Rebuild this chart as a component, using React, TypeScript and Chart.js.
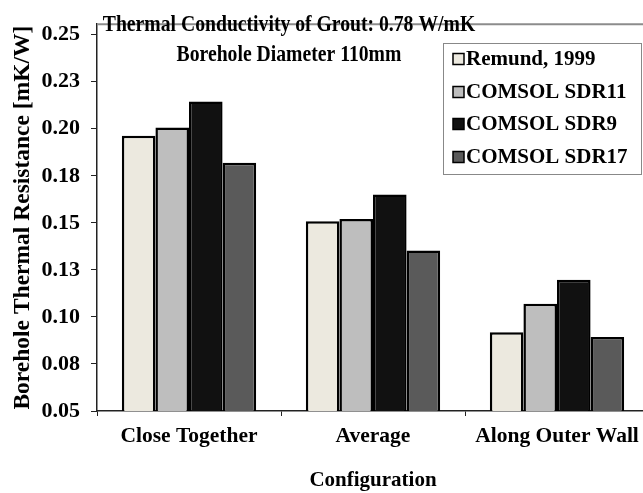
import React, { useEffect, useRef } from "react";
import { Chart, registerables } from "chart.js";

Chart.register(...registerables);

const categories = ["Close Together", "Average", "Along Outer Wall"];
const seriesNames = ["Remund, 1999", "COMSOL SDR11", "COMSOL SDR9", "COMSOL SDR17"];
const remund = [0.1963, 0.1509, 0.0918];
const sdr11 = [0.2007, 0.152, 0.107];
const sdr9 = [0.2145, 0.1651, 0.1197];
const sdr17 = [0.182, 0.1353, 0.0894];
const seriesColors = ["#ECE9DF", "#BEBEBE", "#111111", "#5A5A5A"];
const tickValues = [0.05, 0.075, 0.1, 0.125, 0.15, 0.175, 0.2, 0.225, 0.25];
const tickLabels = ["0.05", "0.08", "0.10", "0.13", "0.15", "0.18", "0.20", "0.23", "0.25"];
const titleLines = ["Thermal Conductivity of Grout: 0.78 W/mK", "Borehole Diameter 110mm"];
const yTitle = "Borehole Thermal Resistance [mK/W]";
const xTitle = "Configuration";

const FONT = "'Liberation Serif', 'Times New Roman', serif";

export default function App() {
  const ref = useRef<HTMLCanvasElement | null>(null);

  useEffect(() => {
    const canvas = ref.current;
    if (!canvas) return;

    const overlay = {
      id: "overlay",
      afterDraw(chart: any) {
        const ctx = chart.ctx as CanvasRenderingContext2D;
        const area = chart.chartArea;
        ctx.save();
        // top frame line
        ctx.strokeStyle = "#8c8c8c";
        ctx.lineWidth = 2;
        ctx.beginPath();
        ctx.moveTo(area.left, area.top);
        ctx.lineTo(chart.width, area.top);
        ctx.stroke();

        // titles (condensed)
        ctx.fillStyle = "#000";
        ctx.font = `bold 24px ${FONT}`;
        ctx.textAlign = "center";
        ctx.textBaseline = "middle";
        const titleY = [25, 55];
        titleLines.forEach((t, i) => {
          ctx.save();
          ctx.translate(289, titleY[i]);
          ctx.scale(0.82, 1);
          ctx.fillText(t, 0, 0);
          ctx.restore();
        });

        // legend
        const bx = 443.5, by = 43.5, bw = 198, bh = 131;
        ctx.fillStyle = "#fff";
        ctx.fillRect(bx, by, bw, bh);
        ctx.strokeStyle = "#888";
        ctx.lineWidth = 1;
        ctx.strokeRect(bx, by, bw, bh);
        const itemY = [59, 92, 124, 157];
        ctx.font = `bold 21px ${FONT}`;
        ctx.textAlign = "left";
        ctx.textBaseline = "middle";
        chart.data.datasets.forEach((ds: any, i: number) => {
          const y = itemY[i];
          ctx.fillStyle = ds.backgroundColor;
          ctx.fillRect(453, y - 5.5, 11, 11);
          ctx.strokeStyle = "#000";
          ctx.lineWidth = 1.5;
          ctx.strokeRect(453, y - 5.5, 11, 11);
          ctx.fillStyle = "#000";
          ctx.fillText(ds.label, 466, y + 1);
        });
        ctx.restore();
      },
    };

    const seriesValues = [remund, sdr11, sdr9, sdr17];

    const chart = new Chart(canvas, {
      type: "bar",
      data: {
        labels: categories,
        datasets: seriesNames.map((name, i) => ({
          label: name,
          data: seriesValues[i],
          backgroundColor: seriesColors[i],
          borderColor: "#000",
          borderWidth: 2.5,
          categoryPercentage: 0.73,
          barPercentage: 1,
        })),
      },
      options: {
        responsive: false,
        devicePixelRatio: 1,
        animation: false,
        layout: { padding: { top: 9, right: 11, left: 0, bottom: 0 } },
        plugins: {
          legend: { display: false },
          title: { display: false },
          tooltip: { enabled: false },
        },
        scales: {
          x: {
            type: "category",
            offset: true,
            afterFit: (s: any) => {
              s.height = 82;
            },
            grid: {
              offset: true,
              drawOnChartArea: false,
              drawTicks: true,
              tickLength: 5,
              color: "#222",
              lineWidth: 1,
            },
            border: { display: true, color: "#222", width: 1.5 },
            ticks: {
              color: "#000",
              font: { family: FONT, size: 21.5, weight: "bold" },
              padding: 8,
              maxRotation: 0,
              autoSkip: false,
            },
            title: {
              display: true,
              text: xTitle,
              color: "#000",
              font: { family: FONT, size: 21, weight: "bold", lineHeight: 1.2 },
              padding: { top: 0, bottom: 0 },
            },
          },
          y: {
            type: "linear",
            min: 0.05,
            max: 0.2556,
            afterFit: (s: any) => {
              s.width = 97;
            },
            afterBuildTicks: (s: any) => {
              s.ticks = tickValues.map((v) => ({ value: v }));
            },
            grid: {
              drawOnChartArea: false,
              drawTicks: true,
              tickLength: 6,
              color: "#222",
              lineWidth: 1,
            },
            border: { display: true, color: "#222", width: 1.5 },
            ticks: {
              color: "#000",
              font: { family: FONT, size: 22, weight: "bold" },
              padding: 11,
              autoSkip: false,
              callback: (_v: any, i: number) => tickLabels[i],
            },
            title: {
              display: true,
              text: yTitle,
              color: "#000",
              font: { family: FONT, size: 23.5, weight: "bold", lineHeight: 1.2 },
              padding: { top: 9, bottom: 0 },
            },
          },
        },
      },
      plugins: [overlay],
    } as any);

    return () => chart.destroy();
  }, []);

  return (
    <div
      style={{
        position: "fixed",
        left: 0,
        top: 0,
        width: 643,
        height: 493,
        overflow: "hidden",
        background: "#fff",
      }}
    >
      <canvas ref={ref} width={660} height={493} style={{ display: "block", width: 660, height: 493 }} />
    </div>
  );
}
